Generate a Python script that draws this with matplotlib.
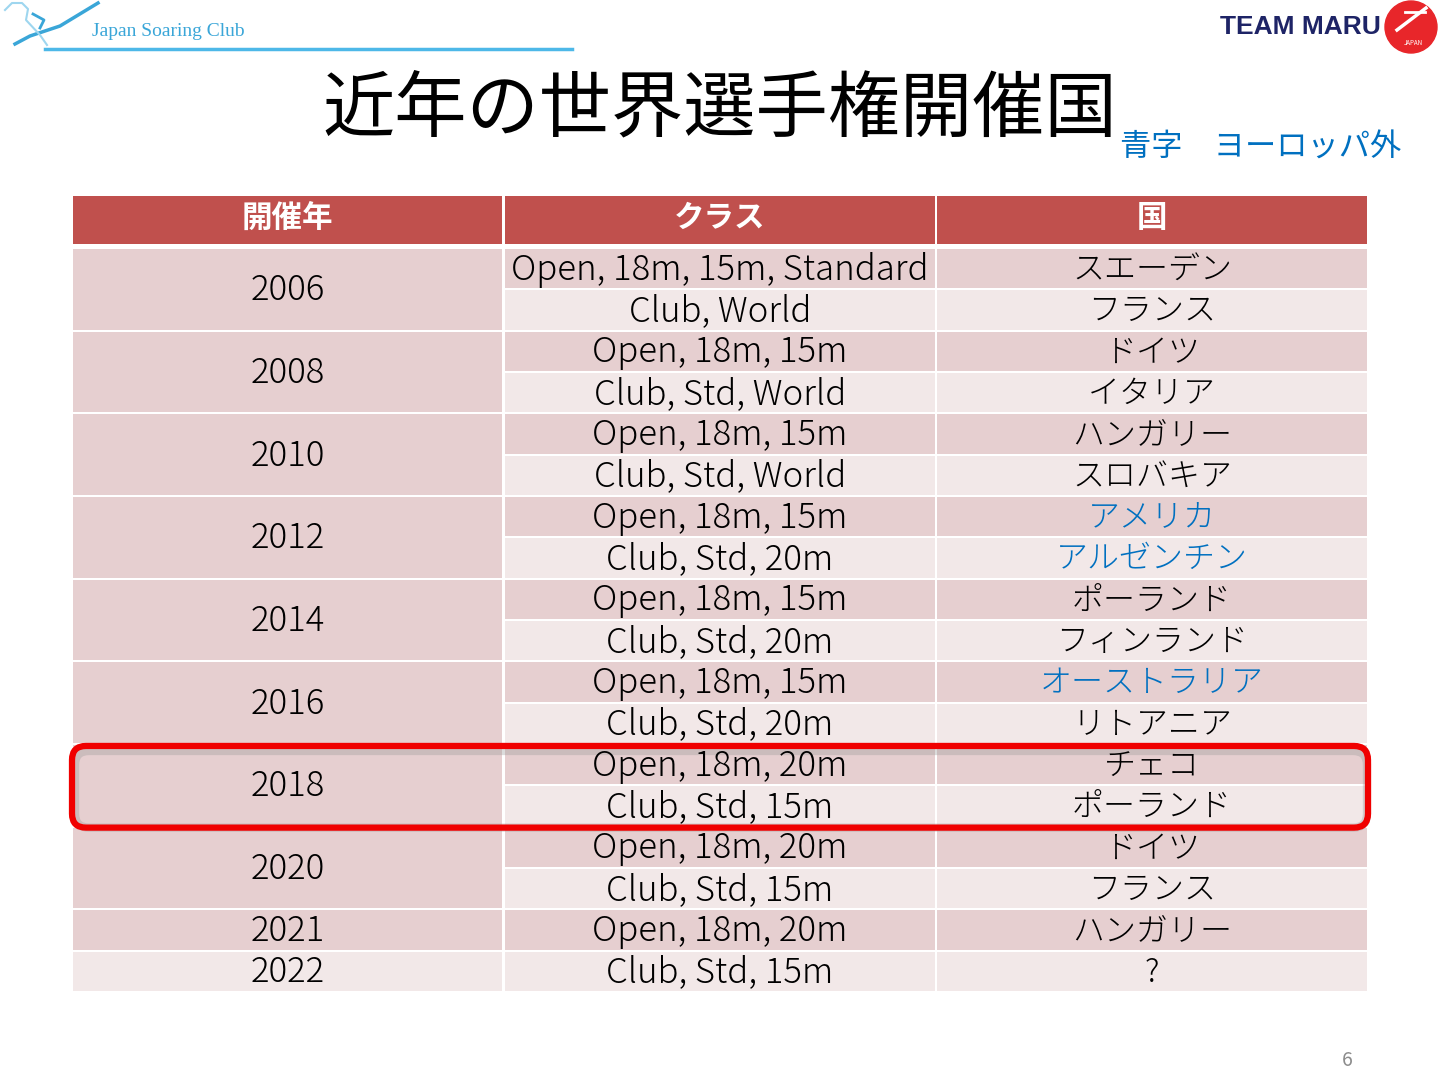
import matplotlib.pyplot as plt
from matplotlib.patches import Rectangle, FancyBboxPatch, Circle

plt.rcParams['font.family'] = ['Noto Sans CJK JP', 'DejaVu Sans']

# table data
header = ['開催年', 'クラス', '国']
years = ['2006', '2008', '2010', '2012', '2014', '2016', '2018', '2020', '2021', '2022']
year_span = [2, 2, 2, 2, 2, 2, 2, 2, 1, 1]
classes = ['Open, 18m, 15m, Standard', 'Club, World',
           'Open, 18m, 15m', 'Club, Std, World',
           'Open, 18m, 15m', 'Club, Std, World',
           'Open, 18m, 15m', 'Club, Std, 20m',
           'Open, 18m, 15m', 'Club, Std, 20m',
           'Open, 18m, 15m', 'Club, Std, 20m',
           'Open, 18m, 20m', 'Club, Std, 15m',
           'Open, 18m, 20m', 'Club, Std, 15m',
           'Open, 18m, 20m', 'Club, Std, 15m']
countries = ['スエーデン', 'フランス', 'ドイツ', 'イタリア', 'ハンガリー', 'スロバキア',
             'アメリカ', 'アルゼンチン', 'ポーランド', 'フィンランド', 'オーストラリア', 'リトアニア',
             'チェコ', 'ポーランド', 'ドイツ', 'フランス', 'ハンガリー', '?']
outside_europe = ['アメリカ', 'アルゼンチン', 'オーストラリア']
highlight_year = '2018'

HEAD_RED = '#C0504D'
DARK = '#E6CFD0'
LIGHT = '#F2E8E8'
BLUE = '#0070C0'

fig = plt.figure(figsize=(14.4, 10.8), dpi=100)
ax = fig.add_axes([0, 0, 1, 1])
ax.set_xlim(0, 1440)
ax.set_ylim(1080, 0)
ax.axis('off')

cols = [(73, 502), (505, 935), (937, 1367)]
row_top = 249
row_h = 41.33
gap = 2

# header
for (x0, x1), h in zip(cols, header):
    ax.add_patch(Rectangle((x0, 196), x1 - x0, 48, color=HEAD_RED, lw=0))
    ax.text((x0 + x1) / 2, 218, h, ha='center', va='center', color='white',
            fontsize=22, fontweight='bold')

# class / country columns
for i, (cl, co) in enumerate(zip(classes, countries)):
    top = row_top + i * row_h
    fc = DARK if i % 2 == 0 else LIGHT
    for (x0, x1) in cols[1:]:
        ax.add_patch(Rectangle((x0, top), x1 - x0, row_h - gap, color=fc, lw=0))
    cy = top + (row_h - gap) / 2 + 1
    ax.text((cols[1][0] + cols[1][1]) / 2, cy, cl, ha='center', va='center',
            fontsize=25, color='black', fontweight='light')
    ax.text((cols[2][0] + cols[2][1]) / 2, cy, co, ha='center', va='center',
            fontsize=23, color=BLUE if co in outside_europe else 'black',
            fontweight='light')

# year column
idx = 0
hl_box = None
for y, span in zip(years, year_span):
    top = row_top + idx * row_h
    h = span * row_h - gap
    fc = DARK if idx % 2 == 0 else LIGHT
    x0, x1 = cols[0]
    ax.add_patch(Rectangle((x0, top), x1 - x0, h, color=fc, lw=0))
    ax.text((x0 + x1) / 2, top + h / 2 + 1, y, ha='center', va='center',
            fontsize=25, color='black', fontweight='light')
    if y == highlight_year:
        hl_box = (top, h)
    idx += span

# red highlight around 2018
if hl_box:
    top, h = hl_box
    ax.add_patch(FancyBboxPatch((75, top + 6), 1292, h - 4,
                                boxstyle='round,pad=0,rounding_size=14',
                                fc='none', ec='#999999', lw=6, alpha=0.35))
    ax.add_patch(FancyBboxPatch((72, top + 1), 1296, h + 1,
                                boxstyle='round,pad=0,rounding_size=14',
                                fc='none', ec='#F00000', lw=4.5))

# title
ax.text(720, 110, '近年の世界選手権開催国', ha='center', va='center',
        fontsize=52, color='black')
ax.text(1120, 148, '青字　ヨーロッパ外', ha='left', va='center',
        fontsize=22.5, color=BLUE)

# page number
ax.text(1347, 1060, '6', ha='center', va='center', fontsize=14, color='#8C8C8C')

# Japan Soaring Club logo
ax.plot([45, 572], [49, 49], color='#4DB8E8', lw=2.5)
ax.plot([15, 30, 60, 98], [44, 36, 26, 3], color='#3AA6D8', lw=2.5)
ax.plot([33, 44, 40], [14, 20, 28], color='#3AA6D8', lw=2)
ax.plot([5, 12, 22, 28, 26, 40, 47], [10, 3, 3, 9, 20, 35, 45], color='#9ED6EF', lw=1.5)
ax.text(92, 32, 'Japan Soaring Club', ha='left', va='center', fontsize=14,
        color='#3AA6D8', family=['Liberation Serif', 'DejaVu Serif'])

# Team Maru logo
ax.text(1381, 27, 'TEAM MARU', ha='right', va='center', fontsize=19,
        fontweight='bold', color='#1E2466', family=['Liberation Sans', 'DejaVu Sans'])
ax.add_patch(Circle((1411, 27), 26, color='#E8262A'))
ax.plot([1397, 1426], [30, 8], color='white', lw=2.5)
ax.plot([1405, 1425], [12, 12], color='white', lw=2)
ax.text(1413, 43, 'JAPAN', ha='center', va='center', fontsize=4.5, color='white')

fig.savefig('out.png', dpi=100, facecolor='white')
